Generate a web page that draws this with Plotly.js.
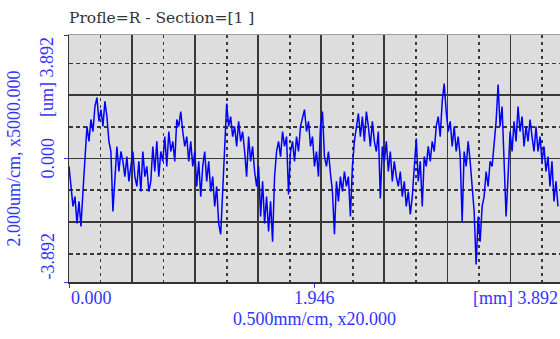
<!DOCTYPE html>
<html><head><meta charset="utf-8">
<script src="https://cdn.plot.ly/plotly-3.0.1.min.js"></script>
<style>html,body{margin:0;padding:0;background:#fff}#chart{width:560px;height:339px}</style>
</head><body><div id="chart"></div>
<script>
const titleText = 'Profle=R - Section=[1 ]';
const xTitle = '0.500mm/cm, x20.000';
const yTitle = '2.000um/cm, x5000.000';
const xTickVals = [0, 1.946, 3.892];
const xTickText = ['0.000', '1.946', '[mm] 3.892'];
const yTickVals = [-3.892, 0, 3.892];
const yTickText = ['-3.892', '0.000', '[um] 3.892'];
const xRange = [0, 3.892];
const yRange = [-3.892, 3.892];
const xGridStep = 0.5;   // mm per division
const yGridStep = 2;     // um per division
const sampleStep = 0.01582; // mm between profile samples

// profile height (um), one sample every sampleStep mm
const profile = [
 -0.25,-0.88,-1.51,-1.20,-2.05,-1.35,-2.14,-1.04,
 -0.09,1.01,0.54,1.23,0.85,1.64,1.92,1.17,1.54,
 1.01,1.80,1.32,0.54,0.22,-1.67,-0.57,
 0.38,-0.41,0.22,-0.09,-0.57,0.06,-0.72,-0.25,0.22,
 -0.57,-0.88,-0.09,-1.04,0.22,-0.57,-0.25,-1.04,-0.72,
 0.38,-0.41,0.54,-0.57,0.22,-0.09,0.69,-0.25,0.85,0.22,0.54,-0.09,
 1.23,1.01,1.48,0.85,
 0.38,0.69,-0.09,0.54,-0.25,0.22,-0.88,-0.09,-1.20,
 -0.25,0.22,-0.72,-0.09,-1.04,-0.57,-1.51,-0.88,-2.05,-2.39,
 -1.04,0.54,1.73,1.01,1.32,0.69,
 1.01,0.38,1.17,0.54,0.85,0.22,-0.57,0.69,-0.09,0.38,-0.41,
 -0.88,-0.25,-1.83,-0.72,-2.05,-1.20,-2.30,-1.35,-2.62,-0.57,
 0.22,0.54,0.06,0.85,0.38,0.69,-1.13,
 0.22,0.54,-0.09,0.69,0.22,1.01,1.32,1.54,0.85,1.17,0.38,0.69,-0.25,
 0.22,-0.57,1.01,1.48,0.06,-0.25,0.22,-0.47,
 -1.04,-2.39,-0.72,-1.35,-0.57,-1.04,-0.41,-0.88,-0.57,-1.83,
 -0.25,0.54,1.01,1.42,0.69,1.32,0.54,1.48,1.01,0.38,1.17,0.54,
 0.22,0.85,-1.26,0.38,-0.09,0.54,-0.41,0.22,-0.72,-0.09,-0.57,
 -0.88,-0.41,-1.20,-0.72,-1.51,-1.04,-1.76,-1.20,
 -0.41,0.63,-0.72,-0.09,-1.51,0.06,-0.25,0.38,-0.09,0.54,0.22,
 1.01,1.32,0.69,1.80,2.36,1.48,
 0.85,1.17,0.38,1.01,0.22,0.69,0.06,
 -1.99,0.22,-0.25,0.54,-0.09,-0.88,-1.67,
 -3.34,-1.83,-2.62,-1.51,-1.20,-0.41,-0.88,-0.09,
 -0.25,0.54,1.17,2.33,1.01,1.64,-0.41,-1.83,-0.57,
 0.85,0.22,1.17,0.54,1.64,0.85,1.32,0.38,1.01,0.54,1.23,0.69,0.22,1.01,
 0.22,0.69,-0.09,0.38,-0.41,0.06,-0.88,-0.09,-1.35,-0.72,-1.51
];
const xs = profile.map((_, i) => +(i * sampleStep).toFixed(5));

const BLUE = '#3333ff';
const labelFont = {family: 'Liberation Serif, DejaVu Serif, serif', size: 18, color: BLUE};
const gridColor = '#383838';

const traces = [
  {x: xs, y: profile, type: 'scatter', mode: 'lines',
   line: {color: '#0000ff', width: 1.5}, hoverinfo: 'skip', showlegend: false},
  {x: [], y: [], xaxis: 'x2', yaxis: 'y2', type: 'scatter', mode: 'lines',
   showlegend: false, hoverinfo: 'skip'}
];

const annotations = [];
xTickVals.forEach((v, i) => {
  annotations.push({x: v, xref: 'x', y: 0, yref: 'paper', text: xTickText[i],
    showarrow: false, font: labelFont, yanchor: 'top', yshift: -4,
    xanchor: i === 0 ? 'left' : (i === xTickVals.length - 1 ? 'right' : 'center')});
});
yTickVals.forEach((v, i) => {
  annotations.push({x: 0, xref: 'paper', y: v, yref: 'y', text: yTickText[i],
    showarrow: false, font: labelFont, textangle: -90, xanchor: 'right', xshift: -10,
    yanchor: i === 0 ? 'bottom' : (i === yTickVals.length - 1 ? 'top' : 'middle')});
});

const layout = {
  width: 560, height: 339,
  margin: {l: 69, r: 0, t: 35, b: 57},
  paper_bgcolor: '#ffffff', plot_bgcolor: '#dddddd',
  title: {text: titleText, xref: 'paper', x: 0, xanchor: 'left', yref: 'container', y: 0.948, yanchor: 'middle',
          font: {family: 'DejaVu Serif, Liberation Serif, serif', size: 15.5, color: '#333333'}},
  xaxis: {range: xRange, tickvals: xTickVals, showticklabels: false, ticks: 'outside', ticklen: 4,
          tickcolor: BLUE, tickwidth: 1, showgrid: false, zeroline: false, showline: true,
          linecolor: '#333333', linewidth: 1.5, automargin: false,
          title: {text: xTitle, font: labelFont, standoff: 26}},
  yaxis: {range: yRange, tickvals: yTickVals, showticklabels: false, ticks: 'outside', ticklen: 4,
          tickcolor: BLUE, tickwidth: 1, showgrid: false, zeroline: false, showline: true,
          linecolor: '#333333', linewidth: 1.5, automargin: false,
          title: {text: yTitle, font: labelFont, standoff: 38}},
  xaxis2: {overlaying: 'x', side: 'top', anchor: 'y2', range: xRange, tick0: 0, dtick: xGridStep,
           showticklabels: false, ticks: '', showgrid: true, gridcolor: gridColor, gridwidth: 1.8,
           minor: {tick0: 0, dtick: xGridStep / 2, showgrid: true, gridcolor: gridColor, gridwidth: 1.6, griddash: '3px,4px'},
           zeroline: false, showline: true, linecolor: '#a0a0a0', linewidth: 1.5},
  yaxis2: {overlaying: 'y', side: 'right', anchor: 'x2', range: yRange, tick0: 0, dtick: yGridStep,
           showticklabels: false, ticks: '', showgrid: true, gridcolor: gridColor, gridwidth: 1.8,
           minor: {tick0: 0, dtick: yGridStep / 2, showgrid: true, gridcolor: gridColor, gridwidth: 1.6, griddash: '4px,3px'},
           zeroline: false, showline: false},
  annotations: annotations,
  showlegend: false
};

Plotly.newPlot('chart', traces, layout, {displayModeBar: false, staticPlot: true});
</script>
</body></html>
